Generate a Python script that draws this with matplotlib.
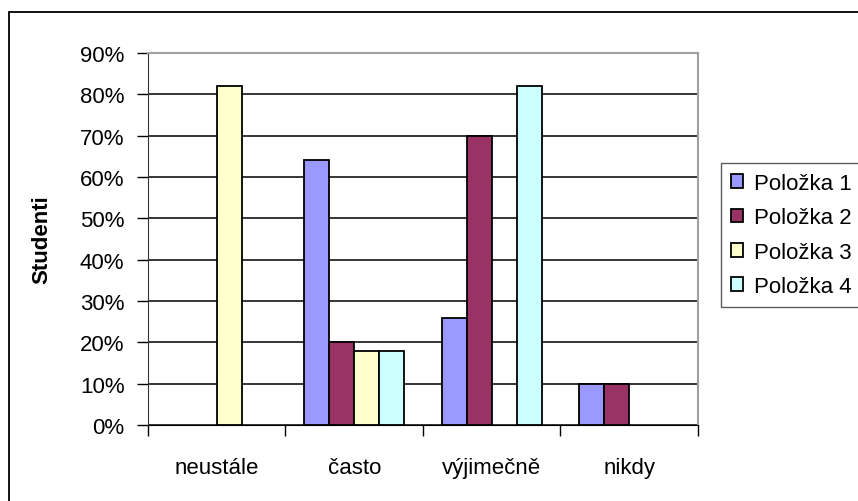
import numpy as np
import matplotlib
matplotlib.use('Agg')
import matplotlib.pyplot as plt
from matplotlib.patches import Rectangle, Patch
from matplotlib.ticker import PercentFormatter

plt.rcParams['font.family'] = ['Liberation Sans', 'DejaVu Sans']

categories = ['neustále', 'často', 'výjimečně', 'nikdy']
series_names = ['Položka 1', 'Položka 2', 'Položka 3', 'Položka 4']
polozka1 = [0, 64, 26, 10]
polozka2 = [0, 20, 70, 10]
polozka3 = [82, 18, 0, 0]
polozka4 = [0, 18, 82, 0]
colors = ['#9999FF', '#993366', '#FFFFCC', '#CCFFFF']
yticks = [0, 10, 20, 30, 40, 50, 60, 70, 80, 90]

fig = plt.figure(figsize=(8.58, 5.02), dpi=100)
ax = fig.add_axes([0.1725, 0.1514, 0.641, 0.741])

x = np.arange(len(categories))
width = 1 / 5.5
series = [polozka1, polozka2, polozka3, polozka4]
for i, (vals, col) in enumerate(zip(series, colors)):
    bars = ax.bar(x + (i - 1.5) * width, vals, width, color=col, edgecolor='black',
                  linewidth=1.3, zorder=3)
    # empty bars leave no outline on the axis
    for b, v in zip(bars, vals):
        if v == 0:
            b.set_visible(False)

ax.set_xlim(-0.5, len(categories) - 0.5)
ax.set_ylim(0, 90)
ax.set_yticks(yticks)
ax.yaxis.set_major_formatter(PercentFormatter(decimals=0))
ax.yaxis.grid(True, color='black', linewidth=1.1, zorder=0)

# category labels sit between boundary ticks
ax.set_xticks(np.arange(len(categories) + 1) - 0.5)
ax.set_xticklabels([])
ax.set_xticks(x, minor=True)
ax.set_xticklabels(categories, minor=True, fontsize=16)
ax.tick_params(axis='x', which='minor', length=0, pad=23)
ax.tick_params(axis='x', which='major', direction='out', length=8, width=1)
ax.tick_params(axis='y', direction='out', length=8, width=1, labelsize=16, pad=9)

for side in ['top', 'right']:
    ax.spines[side].set_color('#a0a0a0')
    ax.spines[side].set_linewidth(1.5)
ax.spines['left'].set_color('#333333')
ax.spines['bottom'].set_color('black')

ax.set_ylabel('Studenti', fontsize=16, fontweight='bold')
ax.yaxis.set_label_coords(-0.1745, 0.5)

handles = [Patch(facecolor=c, edgecolor='black', linewidth=1.3) for c in colors]
leg = fig.legend(handles, series_names, loc='upper left',
                 bbox_to_anchor=(721 / 858, 1 - 164 / 502),
                 fontsize=16, frameon=True, fancybox=False, edgecolor='#333333',
                 handlelength=0.55, handleheight=0.55, handletextpad=0.5,
                 labelspacing=0.6, borderpad=0.45, borderaxespad=0)
leg.get_frame().set_linewidth(1.0)

# outer chart frame
fig.patches.append(Rectangle((9 / 858, -0.1), 1.2, 0.1 + (502 - 13) / 502,
                             transform=fig.transFigure, fill=False,
                             edgecolor='black', linewidth=1.3))

fig.savefig('out.png', dpi=100)
